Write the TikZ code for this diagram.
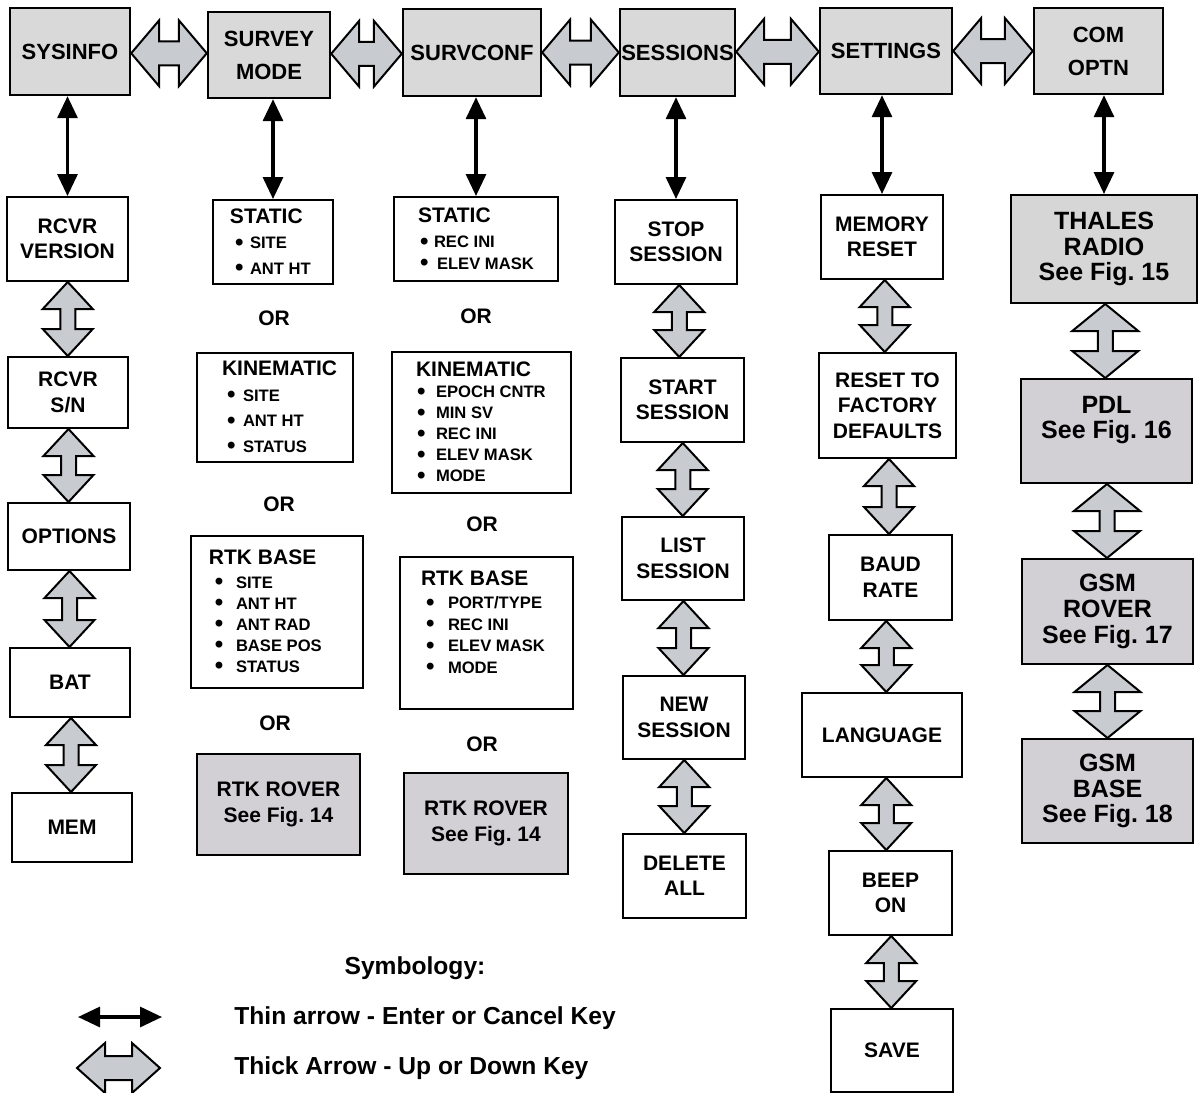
\documentclass[tikz,border=0pt]{standalone}
\usepackage{fontspec}
\setmainfont{Liberation Sans}
\usetikzlibrary{arrows.meta,calc}
\frenchspacing

\definecolor{topfill}{HTML}{D9D9D9}
\definecolor{keyfill}{HTML}{C8CBD0}
\definecolor{figfill}{HTML}{D2CFD5}
\definecolor{radiofill}{HTML}{D6D6D6}

\newcommand{\tpfont}{\fontsize{11}{16.5}\selectfont\bfseries}
\newcommand{\bxfont}{\fontsize{10.5}{12.75}\selectfont\bfseries}
\newcommand{\lsfont}{\fontsize{8.3}{10.25}\selectfont\bfseries}
\newcommand{\fgfont}{\fontsize{12.5}{12.8}\selectfont\bfseries}
\newcommand{\lgfont}{\fontsize{12.3}{14}\selectfont\bfseries}
\newcommand{\dotitem}[3]{{\lsfont\makebox[#2][l]{\hspace*{#1}\raisebox{-0.8pt}{\fontsize{12}{12}\selectfont\textbullet}}#3}}

% thick up/down key arrow between two points
\newcommand{\updown}[3][12.5pt]{%
  \filldraw[keyarrow] let \p1=#2, \p2=#3, \p3=($(\p1)!0.5!(\p2)$) in
    (\x3,\y1) -- (\x3+#1,\y1-13.5pt) -- (\x3+3.75pt,\y1-13.5pt) -- (\x3+3.75pt,\y2+13.5pt)
    -- (\x3+#1,\y2+13.5pt) -- (\x3,\y2) -- (\x3-#1,\y2+13.5pt) -- (\x3-3.75pt,\y2+13.5pt)
    -- (\x3-3.75pt,\y1-13.5pt) -- (\x3-#1,\y1-13.5pt) -- cycle;}
\newcommand{\leftright}[3][16.5pt]{%
  \filldraw[keyarrow] let \p1=#2, \p2=#3, \p3=($(\p1)!0.5!(\p2)$) in
    (\x1,\y3) -- (\x1+14pt,\y3+#1) -- (\x1+14pt,\y3+6pt) -- (\x2-14pt,\y3+6pt)
    -- (\x2-14pt,\y3+#1) -- (\x2,\y3) -- (\x2-14pt,\y3-#1) -- (\x2-14pt,\y3-6pt)
    -- (\x1+14pt,\y3-6pt) -- (\x1+14pt,\y3-#1) -- cycle;}

\begin{document}
\begin{tikzpicture}[x=0.5pt,y=-0.5pt,
    boxsize/.style 2 args={minimum width=#1,minimum height=#2,inner sep=0pt},
    topbox/.style={draw,line width=1.2pt,fill=topfill,font=\tpfont,align=center},
    box/.style={draw,line width=1pt,fill=white,font=\bxfont,align=center},
    listbox/.style={draw,line width=1pt,fill=white,font=\bxfont,align=flush left,inner xsep=0pt,text width=#1},
    figbox/.style={draw,line width=1pt,fill=figfill,font=\bxfont,align=center},
    ortext/.style={font=\bxfont},
    keytext/.style={font=\lgfont,anchor=west,inner sep=0pt},
    enterkey/.style={line width=1.6pt,{Triangle[length=11pt,width=10pt]}-{Triangle[length=11pt,width=10pt]}},
    keyarrow/.style={fill=keyfill,draw=black,line width=1pt}]
    \useasboundingbox (0,0) rectangle (1201,1093);

    \node[topbox,boxsize={60pt}{43.5pt}] (sysinfo) at (70,51.5) {SYSINFO};
    \node[topbox,boxsize={61pt}{43pt}] (survmode) at (269,55) {SURVEY\\MODE};
    \node[topbox,boxsize={69pt}{43.5pt}] (survconf) at (472,52.5) {SURVCONF};
    \node[topbox,boxsize={57.5pt}{43.5pt}] (sessions) at (677.5,52.5) {SESSIONS};
    \node[topbox,boxsize={66pt}{43pt}] (settings) at (886,51) {SETTINGS};
    \node[topbox,boxsize={64.5pt}{43pt}] (comoptn) at (1098.5,51) {COM\\OPTN};
    \leftright{(sysinfo.east)}{(survmode.west)}
    \leftright{(survmode.east)}{(survconf.west)}
    \leftright{(survconf.east)}{(sessions.west)}
    \leftright{(sessions.east)}{(settings.west)}
    \leftright{(settings.east)}{(comoptn.west)}

    \node[box,boxsize={60.5pt}{42pt}] (rcvrver) at (67.5,239) {RCVR\\VERSION};
    \node[box,boxsize={60pt}{35.5pt}] (rcvrsn) at (68,392.5) {RCVR\\S/N};
    \node[box,boxsize={61pt}{33.5pt}] (options) at (69,536.5) {OPTIONS};
    \node[box,boxsize={60pt}{34.5pt}] (bat) at (70,682.5) {BAT};
    \node[box,boxsize={60pt}{34.5pt}] (mem) at (72,827.5) {MEM};
    \draw[enterkey] (sysinfo.south -| rcvrver.north) -- (rcvrver.north);
    \updown{(rcvrver.south)}{(rcvrsn.north)}
    \updown{(rcvrsn.south)}{(options.north)}
    \updown{(options.south)}{(bat.north)}
    \updown{(bat.south)}{(mem.north)}

    \node[listbox=60pt,minimum height=42pt] (stat2) at (273,242) {\hspace*{8.5pt}STATIC\\
        \dotitem{11pt}{18.5pt}{SITE}\\ \dotitem{11pt}{18.5pt}{ANT HT}};
    \node[ortext] (or21) at (274,318) {OR};
    \node[listbox=78pt,minimum height=54.5pt] (kin2) at (275,407.5) {\hspace*{12.5pt}KINEMATIC\\
        \dotitem{15pt}{23pt}{SITE}\\ \dotitem{15pt}{23pt}{ANT HT}\\ \dotitem{15pt}{23pt}{STATUS}};
    \node[ortext] (or22) at (279,504) {OR};
    \node[listbox=86pt,minimum height=76pt] (rtkb2) at (277,612) {\hspace*{9pt}RTK BASE\\[-1pt]
        \dotitem{12pt}{22.5pt}{SITE}\\[-2.25pt] \dotitem{12pt}{22.5pt}{ANT HT}\\[-2.25pt]
        \dotitem{12pt}{22.5pt}{ANT RAD}\\[-2.25pt] \dotitem{12pt}{22.5pt}{BASE POS}\\[-2.25pt]
        \dotitem{12pt}{22.5pt}{STATUS}};
    \node[ortext] (or23) at (275,723) {OR};
    \node[figbox,boxsize={81.5pt}{50.5pt}] (rov2) at (278.5,804.5) {RTK ROVER\\See Fig. 14};
    \draw[enterkey] (survmode.south -| stat2.north) -- (stat2.north);

    \node[listbox=82pt,minimum height=42pt] (stat3) at (476,239) {\hspace*{12pt}STATIC\\
        \dotitem{13pt}{20pt}{REC INI}\\[-2pt] \dotitem{13pt}{21.5pt}{ELEV MASK}};
    \node[ortext] (or31) at (476,316) {OR};
    \node[listbox=89.5pt,minimum height=70.5pt] (kin3) at (481.5,422.5) {\hspace*{12pt}KINEMATIC\\[-2pt]
        \dotitem{12.5pt}{22pt}{EPOCH CNTR}\\[-2.25pt] \dotitem{12.5pt}{22pt}{MIN SV}\\[-2.25pt]
        \dotitem{12.5pt}{22pt}{REC INI}\\[-2.25pt] \dotitem{12.5pt}{22pt}{ELEV MASK}\\[-2.25pt]
        \dotitem{12.5pt}{22pt}{MODE}};
    \node[ortext] (or32) at (482,524) {OR};
    \node[listbox=86.5pt,minimum height=76pt] (rtkb3) at (486.5,633) {\hspace*{10.5pt}RTK BASE\\[-1pt]
        \dotitem{13pt}{24pt}{PORT/TYPE}\\[-2pt] \dotitem{13pt}{24pt}{REC INI}\\[-2pt]
        \dotitem{13pt}{24pt}{ELEV MASK}\\[-2pt] \dotitem{13pt}{24pt}{MODE}\rule[-11pt]{0pt}{1pt}};
    \node[ortext] (or33) at (482,744) {OR};
    \node[figbox,boxsize={82pt}{50.5pt}] (rov3) at (486,823.5) {RTK ROVER\\See Fig. 14};
    \draw[enterkey] (survconf.south -| stat3.north) -- (stat3.north);

    \node[box,boxsize={61pt}{42pt}] (stop) at (676,242) {STOP\\SESSION};
    \node[box,boxsize={61.5pt}{42pt}] (start) at (682.5,400) {START\\SESSION};
    \node[box,boxsize={61pt}{41.5pt}] (list) at (683,558.5) {LIST\\SESSION};
    \node[box,boxsize={61pt}{41.5pt}] (new) at (684,717.5) {NEW\\SESSION};
    \node[box,boxsize={61.5pt}{42pt}] (delall) at (684.5,876) {DELETE\\ALL};
    \draw[enterkey] (sessions.south -| stop.north) -- (stop.north);
    \updown{(stop.south)}{(start.north)}
    \updown{(start.south)}{(list.north)}
    \updown{(list.south)}{(new.north)}
    \updown{(new.south)}{(delall.north)}

    \node[box,boxsize={61pt}{42pt}] (memreset) at (882,237) {MEMORY\\RESET};
    \node[box,boxsize={68.5pt}{52.5pt}] (factory) at (887.5,405.5) {RESET TO\\FACTORY\\DEFAULTS};
    \node[box,boxsize={61.5pt}{42.5pt}] (baud) at (890.5,577.5) {BAUD\\RATE};
    \node[box,boxsize={80pt}{42pt}] (language) at (882,735) {LANGUAGE};
    \node[box,boxsize={61.5pt}{42pt}] (beep) at (890.5,893) {BEEP\\ON};
    \node[box,boxsize={61pt}{41.5pt}] (save) at (892,1050.5) {SAVE};
    \draw[enterkey] (settings.south -| memreset.north) -- (memreset.north);
    \updown{(memreset.south)}{(factory.north)}
    \updown{(factory.south)}{(baud.north)}
    \updown{(baud.south)}{(language.north)}
    \updown{(language.south)}{(beep.north)}
    \updown{(beep.south)}{(save.north)}

    \node[figbox,fill=radiofill,font=\fgfont,boxsize={93pt}{54pt}] (radio) at (1104,249) {THALES\\RADIO\\See Fig. 15};
    \node[figbox,font=\fgfont,boxsize={85.5pt}{52pt}] (pdl) at (1106.5,431) {PDL\\See Fig. 16\rule[-13.5pt]{0pt}{1pt}};
    \node[figbox,font=\fgfont,boxsize={85.5pt}{52.5pt}] (gsmrov) at (1107.5,611.5) {GSM\\ROVER\\See Fig. 17};
    \node[figbox,font=\fgfont,boxsize={85.5pt}{52pt}] (gsmbase) at (1107.5,791) {GSM\\BASE\\See Fig. 18};
    \draw[enterkey] (comoptn.south -| radio.north) -- (radio.north);
    \updown[16.5pt]{(radio.south)}{(pdl.north)}
    \updown[16.5pt]{(pdl.south)}{(gsmrov.north)}
    \updown[16.5pt]{(gsmrov.south)}{(gsmbase.north)}

    \node[font=\lgfont] (symb) at (415,968) {Symbology:};
    \coordinate (lt1) at (78,1017);
    \coordinate (lt2) at (162,1017);
    \draw[enterkey] (lt1) -- (lt2);
    \node[keytext] (thin) at (234,1018) {Thin arrow - Enter or Cancel Key};
    \coordinate (lk1) at (77,1068);
    \coordinate (lk2) at (160,1068);
    \leftright[12.5pt]{(lk1)}{(lk2)}
    \node[keytext] (thick) at (234,1068) {Thick Arrow - Up or Down Key};
\end{tikzpicture}
\end{document}
